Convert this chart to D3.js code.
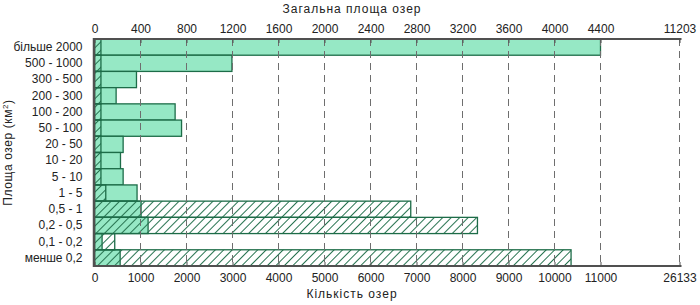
<!DOCTYPE html>
<html>
<head>
<meta charset="utf-8">
<script src="https://cdn.jsdelivr.net/npm/d3@7"></script>
<style>
    body { margin: 0; background: #fff; }
    svg { display: block; font-family: "Liberation Sans", Arial, sans-serif; }
    .axis text { font-size: 12px; fill: #222; }
    .axis-title { font-size: 12px; fill: #222; letter-spacing: 1px; }
</style>
</head>
<body>
<div class="chart"></div>
<script>
    // size classes of lakes, km2 (top to bottom)
    let categories = ["більше 2000", "500 - 1000", "300 - 500", "200 - 300", "100 - 200", "50 - 100",
        "20 - 50", "10 - 20", "5 - 10", "1 - 5", "0,5 - 1", "0,2 - 0,5", "0,1 - 0,2", "менше 0,2"];

    // total lake area per class (top axis)
    let areaValues = [4400, 1195, 365, 188, 701, 757, 249, 226, 249, 370, 405, 466, 66, 223];

    // number of lakes per class (bottom axis)
    let countValues = [140, 140, 140, 140, 140, 140, 140, 140, 140, 245, 6875, 8325, 440, 10360];

    let areaTicks = [0, 400, 800, 1200, 1600, 2000, 2400, 2800, 3200, 3600, 4000, 4400, 11203];
    let countTicks = [0, 1000, 2000, 3000, 4000, 5000, 6000, 7000, 8000, 9000, 10000, 11000, 26133];

    let width = 700, height = 305;
    let margin = {top: 39, right: 20.5, bottom: 39, left: 94.5};
    let w = width - margin.left - margin.right,
        h = height - margin.top - margin.bottom;
    let brk = 506; // pixel position where the axis break starts

    let svg = d3.select(".chart").append("svg")
        .attr("width", width)
        .attr("height", height);

    let defs = svg.append("defs");
    defs.append("pattern")
        .attr("id", "hatch")
        .attr("patternUnits", "userSpaceOnUse")
        .attr("width", 6)
        .attr("height", 6)
        .attr("patternTransform", "rotate(45)")
        .append("line")
        .attr("x1", 0.5).attr("y1", 0)
        .attr("x2", 0.5).attr("y2", 6)
        .attr("stroke", "#277350")
        .attr("stroke-width", 1);

    let g = svg.append("g")
        .attr("transform", "translate(" + margin.left + "," + margin.top + ")");

    let y = d3.scaleBand().domain(categories).range([0, h]).padding(0);

    // piecewise scales: linear up to the break, compressed after it
    let xArea = d3.scaleLinear()
        .domain([0, areaTicks[areaTicks.length - 2], areaTicks[areaTicks.length - 1]])
        .range([0, brk, w]);
    let xCount = d3.scaleLinear()
        .domain([0, countTicks[countTicks.length - 2], countTicks[countTicks.length - 1]])
        .range([0, brk, w]);

    let rows = categories.map(function (c, i) {
        return {name: c, area: areaValues[i], count: countValues[i]};
    });

    // area bars
    g.selectAll(".area-bar")
        .data(rows)
        .enter().append("rect")
        .attr("class", "area-bar")
        .attr("x", 0)
        .attr("y", d => y(d.name))
        .attr("width", d => xArea(d.area))
        .attr("height", y.bandwidth())
        .attr("fill", "#96e8c5")
        .attr("stroke", "#1d6c48")
        .attr("stroke-width", 1.3);

    // count bars (hatched)
    g.selectAll(".count-bar")
        .data(rows)
        .enter().append("rect")
        .attr("class", "count-bar")
        .attr("x", 0)
        .attr("y", d => y(d.name))
        .attr("width", d => xCount(d.count))
        .attr("height", y.bandwidth())
        .attr("fill", "url(#hatch)")
        .attr("stroke", "#1d6c48")
        .attr("stroke-width", 1.3);

    // dashed grid on top of bars
    g.append("g")
        .selectAll("line")
        .data(countTicks.slice(1))
        .enter().append("line")
        .attr("x1", d => xCount(d)).attr("x2", d => xCount(d))
        .attr("y1", 0).attr("y2", h)
        .attr("stroke", "#6e6e6e")
        .attr("stroke-width", 1)
        .attr("stroke-dasharray", "7,5");

    let topAxis = g.append("g")
        .attr("class", "axis")
        .call(d3.axisTop(xArea).tickValues(areaTicks).tickFormat(d3.format("d"))
            .tickSizeInner(-4).tickSizeOuter(0).tickPadding(6.5));

    let bottomAxis = g.append("g")
        .attr("class", "axis")
        .attr("transform", "translate(0," + h + ")")
        .call(d3.axisBottom(xCount).tickValues(countTicks).tickFormat(d3.format("d"))
            .tickSizeInner(-4).tickSizeOuter(0).tickPadding(7));

    [topAxis, bottomAxis].forEach(function (a) {
        a.select(".domain").attr("stroke", "#505050").attr("stroke-width", 2)
            .attr("d", "M0,0H" + (w + 2));
        a.selectAll(".tick line").attr("stroke", "#505050");
        a.attr("font-family", null).attr("font-size", null);
    });

    let leftAxis = g.append("g")
        .attr("class", "axis")
        .call(d3.axisLeft(y).tickSize(0).tickPadding(12));
    leftAxis.attr("font-family", null).attr("font-size", null);
    leftAxis.select(".domain").remove();

    g.append("line")
        .attr("x1", -0.5).attr("x2", -0.5)
        .attr("y1", -1).attr("y2", h + 1)
        .attr("stroke", "#505050")
        .attr("stroke-width", 2.5);

    // titles
    svg.append("text")
        .attr("class", "axis-title")
        .attr("x", 352).attr("y", 13)
        .attr("text-anchor", "middle")
        .text("Загальна площа озер");

    svg.append("text")
        .attr("class", "axis-title")
        .attr("x", 352).attr("y", 298)
        .attr("text-anchor", "middle")
        .text("Кількість озер");

    let yTitle = svg.append("text")
        .attr("class", "axis-title")
        .attr("transform", "translate(12," + (margin.top + h / 2) + ") rotate(-90)")
        .attr("text-anchor", "middle")
        .style("letter-spacing", "0.6px");
    yTitle.append("tspan").text("Площа озер (км");
    yTitle.append("tspan").attr("dy", -4).style("font-size", "8px").text("2");
    yTitle.append("tspan").attr("dy", 4).text(")");
</script>
</body>
</html>
